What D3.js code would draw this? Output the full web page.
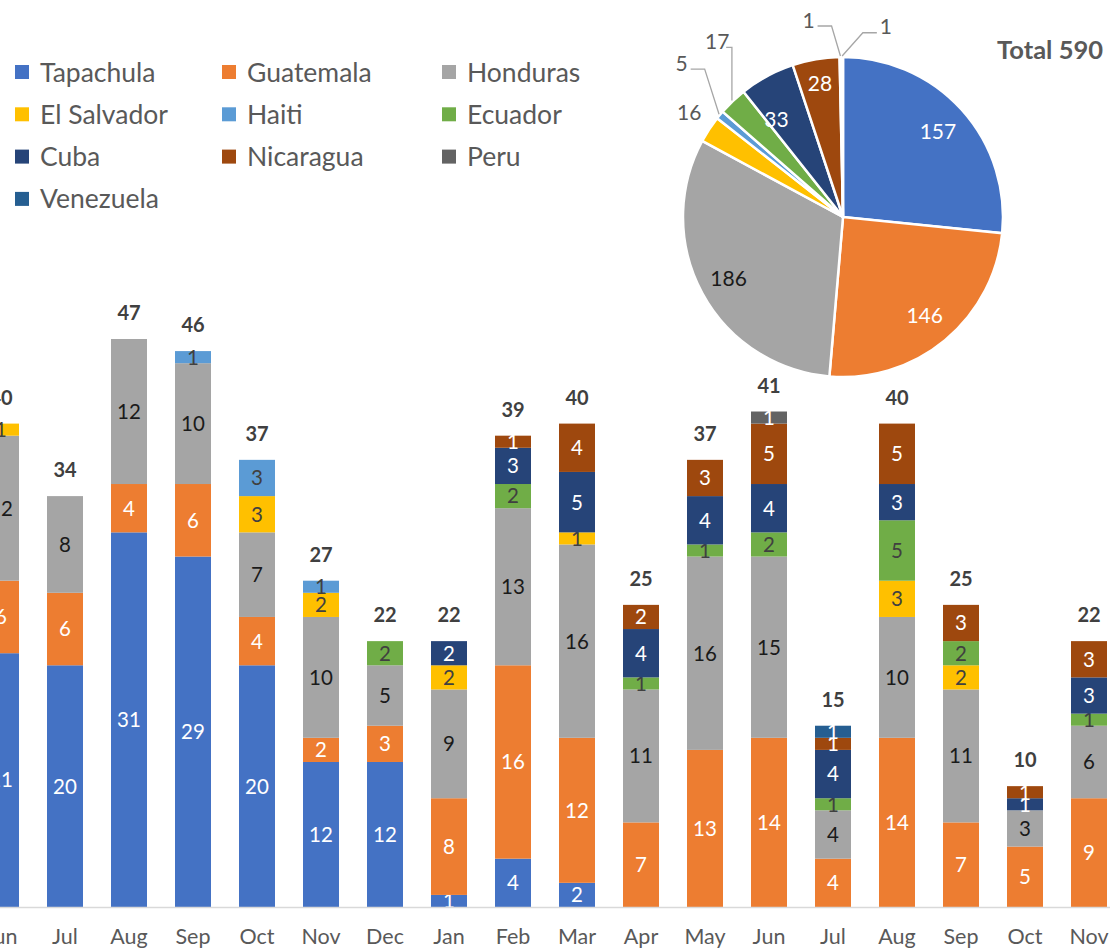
<!DOCTYPE html>
<html>
<head>
    <meta charset="utf-8">
    <title>Stacked bars and pie</title>
    <script src="https://d3js.org/d3.v7.min.js"></script>
    <style>
        body { margin: 0; background: #fff; }
        text { font-family: Lato, "Open Sans", sans-serif; }
    </style>
</head>
<body>
<div id="chart"></div>
<script type="text/javascript">
    // month labels along the axis (the first and last are cut off by the crop)
    let months = ["Jun", "Jul", "Aug", "Sep", "Oct", "Nov", "Dec", "Jan", "Feb", "Mar",
                  "Apr", "May", "Jun", "Jul", "Aug", "Sep", "Oct", "Nov"];

    let series = ["Tapachula", "Guatemala", "Honduras", "El Salvador", "Haiti",
                  "Ecuador", "Cuba", "Nicaragua", "Peru", "Venezuela"];

    let tapachula  = [21, 20, 31, 29, 20, 12, 12, 1, 4, 2, 0, 0, 0, 0, 0, 0, 0, 0];
    let guatemala  = [6, 6, 4, 6, 4, 2, 3, 8, 16, 12, 7, 13, 14, 4, 14, 7, 5, 9];
    let honduras   = [12, 8, 12, 10, 7, 10, 5, 9, 13, 16, 11, 16, 15, 4, 10, 11, 3, 6];
    let elSalvador = [1, 0, 0, 0, 3, 2, 0, 2, 0, 1, 0, 0, 0, 0, 3, 2, 0, 0];
    let haiti      = [0, 0, 0, 1, 3, 1, 0, 0, 0, 0, 0, 0, 0, 0, 0, 0, 0, 0];
    let ecuador    = [0, 0, 0, 0, 0, 0, 2, 0, 2, 0, 1, 1, 2, 1, 5, 2, 0, 1];
    let cuba       = [0, 0, 0, 0, 0, 0, 0, 2, 3, 5, 4, 4, 4, 4, 3, 0, 1, 3];
    let nicaragua  = [0, 0, 0, 0, 0, 0, 0, 0, 1, 4, 2, 3, 5, 1, 5, 3, 1, 3];
    let peru       = [0, 0, 0, 0, 0, 0, 0, 0, 0, 0, 0, 0, 1, 0, 0, 0, 0, 0];
    let venezuela  = [0, 0, 0, 0, 0, 0, 0, 0, 0, 0, 0, 0, 0, 1, 0, 0, 0, 0];

    // pie totals, same order as series
    let pieValues = [157, 146, 186, 16, 5, 17, 33, 28, 1, 1];
    let pieTitle = "Total 590";

    let colors = ["#4472C4", "#ED7D31", "#A5A5A5", "#FFC000", "#5B9BD5",
                  "#70AD47", "#264478", "#9E480E", "#636363", "#255E91"];
    let labelColors = ["#fff", "#fff", "#1a1a1a", "#404040", "#404040",
                       "#404040", "#fff", "#fff", "#fff", "#fff"];

    let seriesValues = [tapachula, guatemala, honduras, elSalvador, haiti,
                        ecuador, cuba, nicaragua, peru, venezuela];

    let W = 1110, H = 950;

    let svg = d3.select("#chart")
        .append("svg")
            .attr("width", W)
            .attr("height", H);

    // one row per month for d3.stack
    let rows = months.map(function(m, i) {
        let row = {idx: i, month: m};
        series.forEach(function(s, j) { row[s] = seriesValues[j][i]; });
        return row;
    });

    let stacked = d3.stack().keys(series)(rows);

    let xScale = d3.scaleBand()
        .domain(d3.range(months.length))
        .range([-31, -31 + 64 * months.length])
        .paddingInner(0.4375)
        .paddingOuter(0.21875);

    let yScale = d3.scaleLinear()
        .domain([0, 47])
        .range([907, 339]);

    let layers = svg.append("g")
        .selectAll("g")
        .data(stacked)
        .enter()
        .append("g")
        .attr("fill", function(d, i) { return colors[i]; });

    layers.selectAll("rect")
        .data(function(d) { return d.filter(function(p) { return p[1] > p[0]; }); })
        .enter()
        .append("rect")
        .attr("x", function(d) { return xScale(d.data.idx); })
        .attr("y", function(d) { return yScale(d[1]); })
        .attr("width", xScale.bandwidth())
        .attr("height", function(d) { return yScale(d[0]) - yScale(d[1]); });

    layers.selectAll("text")
        .data(function(d, i) {
            return d.filter(function(p) { return p[1] > p[0]; })
                    .map(function(p) { return {p: p, k: i}; });
        })
        .enter()
        .append("text")
        .attr("x", function(d) { return xScale(d.p.data.idx) + xScale.bandwidth() / 2; })
        .attr("y", function(d) { return (yScale(d.p[0]) + yScale(d.p[1])) / 2; })
        .attr("dy", "0.36em")
        .attr("text-anchor", "middle")
        .attr("font-size", "20.5px")
        .attr("fill", function(d) { return labelColors[d.k]; })
        .text(function(d) { return d.p[1] - d.p[0]; });

    // totals above each bar
    svg.append("g")
        .selectAll("text")
        .data(rows)
        .enter()
        .append("text")
        .attr("x", function(d) { return xScale(d.idx) + xScale.bandwidth() / 2; })
        .attr("y", function(d) {
            return yScale(d3.sum(series, function(s) { return d[s]; })) - 19;
        })
        .attr("text-anchor", "middle")
        .attr("font-size", "20px")
        .attr("font-weight", "bold")
        .attr("fill", "#404040")
        .text(function(d) { return d3.sum(series, function(s) { return d[s]; }); });

    let xAxis = d3.axisBottom(xScale)
        .tickSize(0)
        .tickPadding(22)
        .tickFormat(function(i) { return months[i]; });

    let axisG = svg.append("g")
        .attr("transform", "translate(0," + yScale(0) + ")")
        .call(xAxis);
    axisG.select(".domain").remove();
    axisG.selectAll("text")
        .attr("font-family", "Lato, sans-serif")
        .attr("font-size", "21.5px")
        .attr("fill", "#595959");
    axisG.append("line")
        .attr("x1", 0).attr("x2", W)
        .attr("y1", 0.5).attr("y2", 0.5)
        .attr("stroke", "#D9D9D9")
        .attr("stroke-width", 1.5);

    // legend, three columns
    let legendX = [15, 222, 442];
    let legend = svg.append("g")
        .selectAll("g")
        .data(series)
        .enter()
        .append("g")
        .attr("transform", function(d, i) {
            return "translate(" + legendX[i % 3] + "," + (72 + Math.floor(i / 3) * 42.3) + ")";
        });
    legend.append("rect")
        .attr("x", 0).attr("y", -7)
        .attr("width", 14).attr("height", 14)
        .attr("fill", function(d, i) { return colors[i]; });
    legend.append("text")
        .attr("x", 25)
        .attr("dy", "0.36em")
        .attr("font-size", "26.5px")
        .attr("fill", "#595959")
        .text(function(d) { return d; });

    // pie
    let cx = 843, cy = 217, R = 160;
    let pieData = d3.pie().sort(null)(pieValues);
    let arc = d3.arc().innerRadius(0).outerRadius(R);

    let pieG = svg.append("g")
        .attr("transform", "translate(" + cx + "," + cy + ")");

    pieG.selectAll("path")
        .data(pieData)
        .enter()
        .append("path")
        .attr("d", arc)
        .attr("fill", function(d, i) { return colors[i]; })
        .attr("stroke", "#fff")
        .attr("stroke-width", 2.5);

    // label placement: radius and angle shift (degrees) for each slice label
    let pieLabelPos = [
        {r: 128, da: 0}, {r: 128, da: 0}, {r: 130, da: 0}, {r: 186, da: 1},
        {r: 223, da: 4}, {r: 216, da: 8}, {r: 118, da: -6}, {r: 136, da: 0},
        {r: 200, da: -9}, {r: 195, da: 13}
    ];

    function polar(r, a) {
        return [r * Math.sin(a), -r * Math.cos(a)];
    }

    pieData.forEach(function(d, i) {
        let mid = (d.startAngle + d.endAngle) / 2;
        let lp = pieLabelPos[i];
        let pos = polar(lp.r, mid + lp.da * Math.PI / 180);
        let outside = lp.r > R;
        if (lp.r > 190) {
            let edge = polar(R + 1, mid);
            let side = edge[0] > pos[0] ? 1 : -1;
            let sx = pos[0] + side * 9;
            let sy = pos[1] + 6;
            let ex = sx + side * Math.min(14, Math.abs(edge[0] - sx));
            pieG.append("polyline")
                .attr("points", [[sx, sy], [ex, sy], edge].map(function(p) { return p.join(","); }).join(" "))
                .attr("fill", "none")
                .attr("stroke", "#A6A6A6")
                .attr("stroke-width", 1.3);
        }
        pieG.append("text")
            .attr("x", pos[0])
            .attr("y", pos[1])
            .attr("dy", "0.36em")
            .attr("text-anchor", "middle")
            .attr("font-size", "21px")
            .attr("fill", outside ? "#595959" : labelColors[i])
            .text(pieValues[i]);
    });

    svg.append("text")
        .attr("x", 1103)
        .attr("y", 50)
        .attr("dy", "0.36em")
        .attr("text-anchor", "end")
        .attr("font-size", "25.5px")
        .attr("font-weight", "bold")
        .attr("fill", "#595959")
        .text(pieTitle);
</script>
</body>
</html>
